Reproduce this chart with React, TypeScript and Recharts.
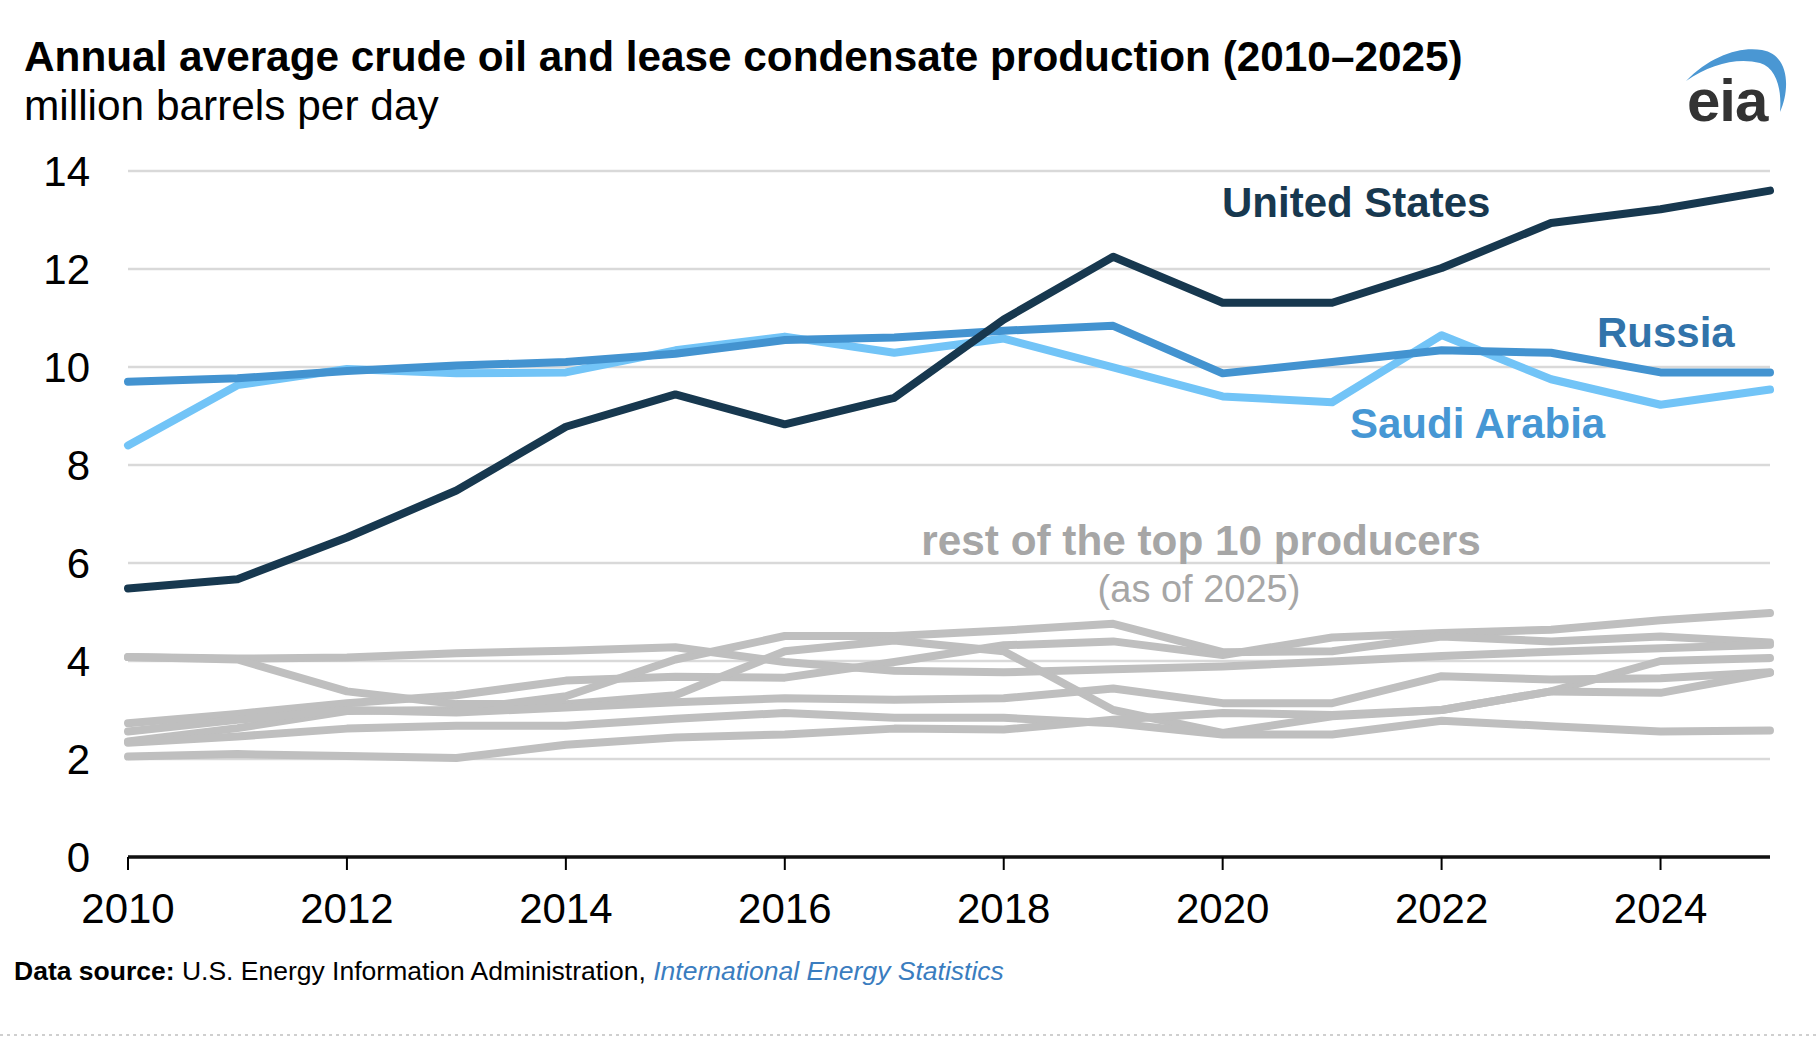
import React from "react";
import { LineChart, Line, XAxis, YAxis, CartesianGrid } from "recharts";

const YEARS = [
  2010, 2011, 2012, 2013, 2014, 2015, 2016, 2017, 2018, 2019, 2020, 2021, 2022, 2023, 2024, 2025,
];

// million barrels per day
const UNITED_STATES = [5.48, 5.67, 6.52, 7.48, 8.78, 9.44, 8.83, 9.37, 10.97, 12.25, 11.31, 11.31, 12.02, 12.94, 13.22, 13.6];
const RUSSIA = [9.7, 9.77, 9.92, 10.03, 10.1, 10.27, 10.55, 10.6, 10.74, 10.84, 9.87, 10.1, 10.34, 10.29, 9.89, 9.89];
const SAUDI_ARABIA = [8.4, 9.63, 9.96, 9.87, 9.89, 10.34, 10.62, 10.29, 10.58, 9.99, 9.4, 9.28, 10.65, 9.75, 9.23, 9.54];

// rest of the top 10 (all drawn in grey)
const CANADA = [2.73, 2.92, 3.14, 3.3, 3.6, 3.68, 3.66, 3.98, 4.32, 4.4, 4.12, 4.48, 4.57, 4.64, 4.83, 4.98];
const IRAQ = [2.36, 2.63, 2.98, 3.0, 3.28, 4.03, 4.51, 4.51, 4.62, 4.76, 4.18, 4.2, 4.5, 4.4, 4.5, 4.38];
const CHINA = [4.08, 4.05, 4.07, 4.16, 4.21, 4.28, 3.98, 3.8, 3.77, 3.83, 3.89, 3.99, 4.1, 4.19, 4.26, 4.33];
const IRAN = [4.08, 4.03, 3.38, 3.12, 3.12, 3.3, 4.2, 4.42, 4.2, 3.0, 2.53, 2.87, 3.0, 3.38, 4.0, 4.06];
const UAE = [2.56, 2.8, 3.0, 2.95, 3.05, 3.16, 3.24, 3.21, 3.24, 3.44, 3.14, 3.14, 3.69, 3.62, 3.65, 3.77];
const KUWAIT = [2.33, 2.46, 2.62, 2.68, 2.68, 2.82, 2.94, 2.84, 2.84, 2.73, 2.5, 2.5, 2.78, 2.67, 2.56, 2.58];
const BRAZIL = [2.05, 2.1, 2.06, 2.02, 2.29, 2.44, 2.5, 2.62, 2.6, 2.8, 2.94, 2.9, 3.0, 3.38, 3.35, 3.76];

const X_TICKS = [2010, 2012, 2014, 2016, 2018, 2020, 2022, 2024];
const Y_TICKS = [0, 2, 4, 6, 8, 10, 12, 14];

const GREY_KEYS = ["canada", "iraq", "china", "iran", "uae", "kuwait", "brazil"];

const data = YEARS.map((year, i) => ({
  year,
  us: UNITED_STATES[i],
  russia: RUSSIA[i],
  saudi: SAUDI_ARABIA[i],
  canada: CANADA[i],
  iraq: IRAQ[i],
  china: CHINA[i],
  iran: IRAN[i],
  uae: UAE[i],
  kuwait: KUWAIT[i],
  brazil: BRAZIL[i],
}));

const FONT = '"Liberation Sans", Arial, Helvetica, sans-serif';
const W = 1816;
const H = 1038;

const lineProps = {
  type: "linear" as const,
  dot: false,
  activeDot: false,
  strokeWidth: 8,
  strokeLinecap: "round" as const,
  strokeLinejoin: "round" as const,
  isAnimationActive: false,
};

export default function App() {
  return (
    <div
      style={{
        position: "absolute",
        left: 0,
        top: 0,
        width: W,
        height: H,
        background: "#fff",
        fontFamily: FONT,
      }}
    >
      <LineChart
        width={W}
        height={H}
        data={data}
        margin={{ top: 171, right: 46, left: 0, bottom: 121 }}
      >
        <CartesianGrid horizontal vertical={false} stroke="#d9d9d9" strokeWidth={2.5} />
        <XAxis
          dataKey="year"
          type="number"
          domain={[2010, 2025]}
          ticks={X_TICKS}
          height={60}
          tickSize={13}
          tickMargin={23}
          tick={{ fontSize: 42, fill: "#000", fontFamily: FONT }}
          tickLine={{ stroke: "#000", strokeWidth: 2 }}
          axisLine={{ stroke: "#111", strokeWidth: 3.5 }}
        />
        <YAxis
          domain={[0, 14]}
          ticks={Y_TICKS}
          width={128}
          tickSize={0}
          tickMargin={38}
          axisLine={false}
          tickLine={false}
          tick={{ fontSize: 42, fill: "#000", fontFamily: FONT }}
        />
        {GREY_KEYS.map((k) => (
          <Line key={k} dataKey={k} stroke="#bfbfbf" {...lineProps} />
        ))}
        <Line dataKey="saudi" stroke="#72c4f7" {...lineProps} />
        <Line dataKey="russia" stroke="#4393d0" {...lineProps} />
        <Line dataKey="us" stroke="#17384f" {...lineProps} />
      </LineChart>

      <svg
        width={W}
        height={H}
        style={{ position: "absolute", left: 0, top: 0, pointerEvents: "none" }}
        fontFamily={FONT}
      >
        <text x={24} y={71} fontSize={42.3} fontWeight="bold" fill="#000">
          Annual average crude oil and lease condensate production (2010–2025)
        </text>
        <text x={24} y={120} fontSize={42.4} fill="#000">
          million barrels per day
        </text>

        {/* eia logo */}
        <path
          d="M1686,81 C1710,56 1740,46 1762,50 C1790,55 1790,90 1780,112 C1782,88 1776,68 1760,63 C1738,57 1710,64 1686,81 Z"
          fill="#4a97d3"
        />
        <text x={1687} y={121} fontSize={60} fontWeight="bold" fill="#333" letterSpacing={-1}>
          eia
        </text>

        <text x={1222} y={217} fontSize={42} fontWeight="bold" fill="#17384f">
          United States
        </text>
        <text x={1597} y={347} fontSize={42} fontWeight="bold" fill="#3173aa">
          Russia
        </text>
        <text x={1350} y={438} fontSize={42} fontWeight="bold" fill="#4697d4">
          Saudi Arabia
        </text>
        <text x={1201} y={555} fontSize={42.3} fontWeight="bold" fill="#a6a6a6" textAnchor="middle">
          rest of the top 10 producers
        </text>
        <text x={1199} y={602} fontSize={38} fill="#a6a6a6" textAnchor="middle">
          (as of 2025)
        </text>

        <text x={14} y={980} fontSize={26.5} fill="#000">
          <tspan fontWeight="bold">Data source:</tspan>
          <tspan> U.S. Energy Information Administration, </tspan>
          <tspan fontStyle="italic" fill="#3a7dbf">
            International Energy Statistics
          </tspan>
        </text>

        <line
          x1={0}
          x2={W}
          y1={1035}
          y2={1035}
          stroke="#cfcfcf"
          strokeWidth={2}
          strokeDasharray="3 4"
        />
      </svg>
    </div>
  );
}
